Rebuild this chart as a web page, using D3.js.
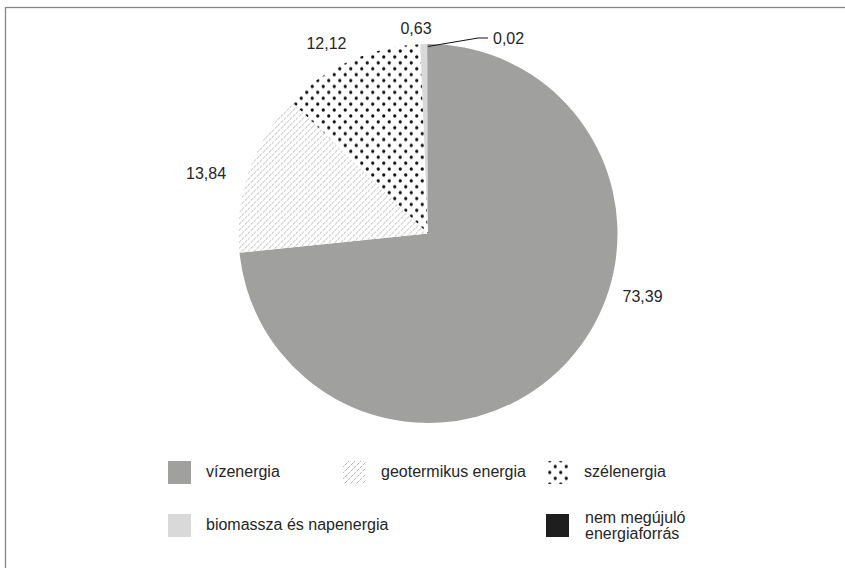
<!DOCTYPE html>
<html><head><meta charset="utf-8">
<script src="https://cdn.jsdelivr.net/npm/d3@7"></script>
<style>html,body{margin:0;padding:0;background:#fff;}svg{display:block;font-family:"Liberation Sans",Arial,sans-serif;}</style>
</head><body>
<svg id="c" width="845" height="568"></svg>
<script>
// ---- data ----
const categories = ["vízenergia", "geotermikus energia", "szélenergia", "biomassza és napenergia", "nem megújuló energiaforrás"];
const values = [73.39, 13.84, 12.12, 0.63, 0.02];
const valueLabels = ["73,39", "13,84", "12,12", "0,63", "0,02"];
const legendLines = [["vízenergia"], ["geotermikus energia"], ["szélenergia"], ["biomassza és napenergia"], ["nem megújuló", "energiaforrás"]];

// ---- layout ----
const W = 845, H = 568;
const cx = 428, cy = 233.5, R = 189.5;
const fills = ["#a0a09f", "url(#hatch)", "url(#dots)", "#d9d9d9", "#1e1e1e"];
// label placement (angle in degrees clockwise from top, radius from centre)
const labelPolar = [[106.2, 223.4], [285.2, 230], [331.9, 215.6], [356.65, 205.6], null];
const legendPos = [[168, 461], [343, 461], [546, 461], [168, 514], [546, 514]];

const svg = d3.select("#c");
const defs = svg.append("defs");

// hatch pattern
const hp = defs.append("pattern").attr("id", "hatch").attr("patternUnits", "userSpaceOnUse")
  .attr("width", 6).attr("height", 6);
hp.append("rect").attr("width", 6).attr("height", 6).attr("fill", "#fff");
hp.append("path").attr("d", "M-1,7 L7,-1 M-4,4 L4,-4 M2,10 L10,2").attr("stroke", "#a6a6a6")
  .attr("stroke-width", 0.85).attr("stroke-dasharray", "4,1.2");
// dots pattern
const dp = defs.append("pattern").attr("id", "dots").attr("patternUnits", "userSpaceOnUse")
  .attr("width", 11).attr("height", 11.8).attr("x", cx - 2).attr("y", cy);
dp.append("rect").attr("width", 11).attr("height", 11.8).attr("fill", "#fff");
dp.append("circle").attr("cx", 2.75).attr("cy", 2.95).attr("r", 1.65).attr("fill", "#111");
dp.append("circle").attr("cx", 8.25).attr("cy", 8.85).attr("r", 1.65).attr("fill", "#111");

// frame
svg.append("rect").attr("x", 5.5).attr("y", 7.5).attr("width", 1000).attr("height", 1000)
  .attr("fill", "none").attr("stroke", "#858585").attr("stroke-width", 1.3);

const pie = d3.pie().sort(null).value(d => d)(values);
const arc = d3.arc().innerRadius(0).outerRadius(R);
const g = svg.append("g").attr("transform", `translate(${cx},${cy})`);
g.selectAll("path.slice").data(pie).join("path").attr("class", "slice")
  .attr("d", arc).attr("fill", (d, i) => fills[i]);

// labels
const toXY = (deg, r) => { const a = deg * Math.PI / 180; return [r * Math.sin(a), -r * Math.cos(a)]; };
pie.forEach((d, i) => {
  if (!labelPolar[i]) return;
  const [x, y] = toXY(labelPolar[i][0], labelPolar[i][1]);
  g.append("text").attr("x", x).attr("y", y + 5.7).attr("text-anchor", "middle")
    .attr("font-size", 16).attr("fill", "#262626").text(valueLabels[i]);
});
// leader label for the tiny slice
{
  const d = pie[4];
  const mid = (d.startAngle + d.endAngle) / 2;
  const p0 = [ (R - 2.5) * Math.sin(mid), -(R - 2.5) * Math.cos(mid) ];
  const p1 = [50, -195.5], p2 = [60, -195.5];
  g.append("path").attr("d", `M${p0[0]},${p0[1]}L${p1[0]},${p1[1]}L${p2[0]},${p2[1]}`)
    .attr("fill", "none").attr("stroke", "#111").attr("stroke-width", 1);
  g.append("text").attr("x", p2[0] + 5).attr("y", p2[1] + 5.7).attr("font-size", 16)
    .attr("fill", "#262626").text(valueLabels[4]);
}

// legend
const lg = svg.append("g");
categories.forEach((c, i) => {
  const [x, y] = legendPos[i];
  lg.append("rect").attr("x", x).attr("y", y).attr("width", 23).attr("height", 23).attr("fill", fills[i]);
  const lines = legendLines[i];
  const t = lg.append("text").attr("font-size", 16).attr("fill", "#262626");
  if (lines.length === 1) {
    t.append("tspan").attr("x", x + 38).attr("y", y + 16).text(lines[0]);
  } else {
    lines.forEach((l, k) => t.append("tspan").attr("x", x + 39).attr("y", y + 8.7 + k * 16.6).text(l));
  }
});
</script>
</body></html>
